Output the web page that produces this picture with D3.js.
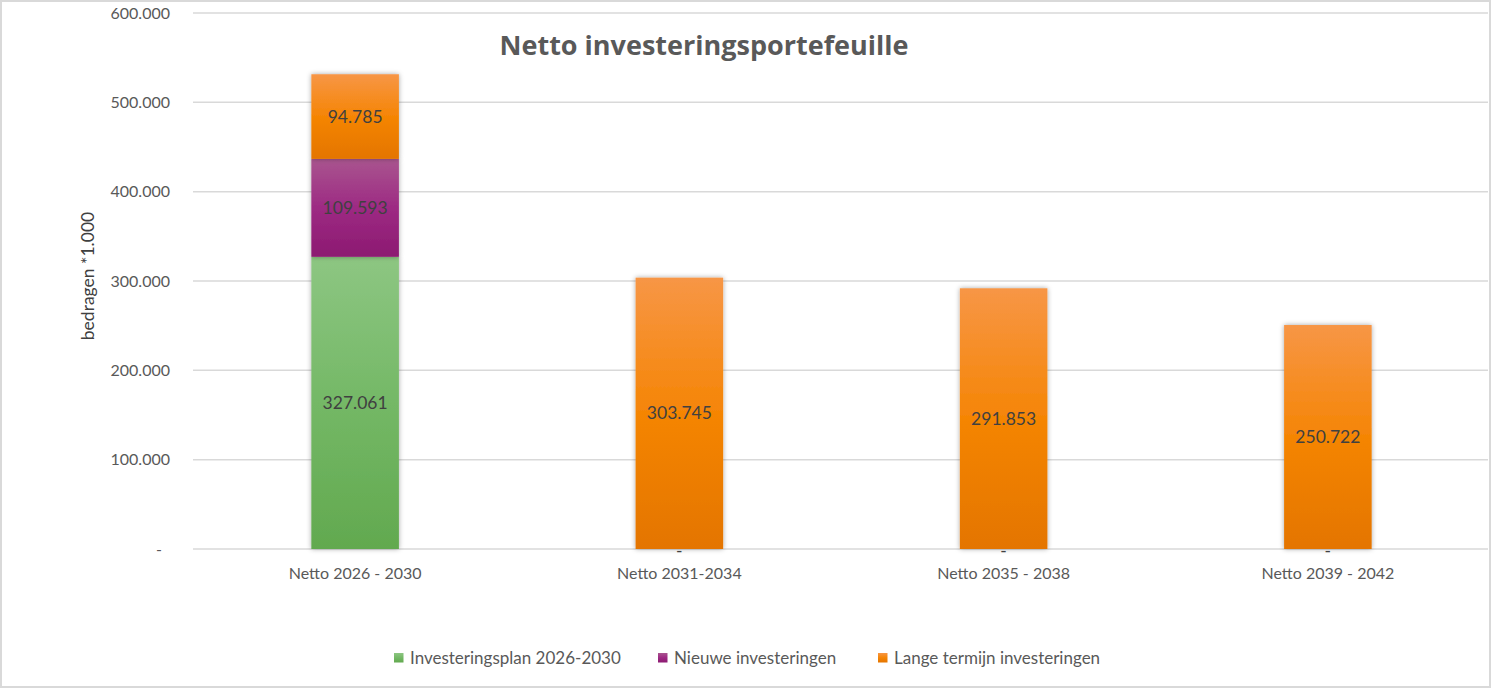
<!DOCTYPE html>
<html><head><meta charset="utf-8">
<script src="https://cdn.jsdelivr.net/npm/d3@7"></script>
<style>
html,body{margin:0;padding:0;background:#fff;}
text{font-family:Lato,"Open Sans","Noto Sans",sans-serif;}
</style></head>
<body>
<svg id="chart" width="1492" height="689"></svg>
<script>
const categories = ["Netto 2026 - 2030","Netto 2031-2034","Netto 2035 - 2038","Netto 2039 - 2042"];
const seriesNames = ["Investeringsplan 2026-2030","Nieuwe investeringen","Lange termijn investeringen"];
const investeringsplan = [327061, 0, 0, 0];
const nieuweInvesteringen = [109593, 0, 0, 0];
const langeTermijn = [94785, 303745, 291853, 250722];
const yTicks = [0, 100000, 200000, 300000, 400000, 500000, 600000];
const title = "Netto investeringsportefeuille";
const yTitle = "bedragen *1.000";

const svg = d3.select("#chart");
const W = 1492, H = 689;
const nl = d3.formatLocale({decimal:",", thousands:".", grouping:[3], currency:["€",""]});
const fmt = v => v === 0 ? "-" : nl.format(",.0f")(v);

// frame
svg.append("rect").attr("x",1).attr("y",1).attr("width",W-3).attr("height",H-3)
  .attr("fill","#fff").attr("stroke","#d9d9d9").attr("stroke-width",2);

const defs = svg.append("defs");
const grads = [
  {id:"g0", stops:["#8dc682","#74b866","#62a94f"]},
  {id:"g1", stops:["#a9558f","#9d2a83","#8c1a71"]},
  {id:"g2", stops:["#f79646","#f58505","#e47500"]}
];
grads.forEach(g=>{
  const lg = defs.append("linearGradient").attr("id",g.id).attr("x1",0).attr("y1",0).attr("x2",0).attr("y2",1);
  g.stops.forEach((c,i)=>lg.append("stop").attr("offset",(i/(g.stops.length-1)*100)+"%").attr("stop-color",c));
});
const f = defs.append("filter").attr("id","shadow").attr("x","-20%").attr("y","-20%").attr("width","140%").attr("height","140%");
f.append("feDropShadow").attr("dx",0).attr("dy",0).attr("stdDeviation",2.5).attr("flood-color","#000").attr("flood-opacity",0.35);

const x = d3.scaleBand().domain(categories).range([193,1490]).paddingInner(0.73).paddingOuter(0.365);
const y = d3.scaleLinear().domain([0,600000]).range([549,13]);

// gridlines
svg.append("g").selectAll("line").data(yTicks).join("line")
  .attr("x1",193).attr("x2",1488).attr("y1",d=>y(d)).attr("y2",d=>y(d))
  .attr("stroke","#d9d9d9").attr("stroke-width",1.5);

// y axis labels
const yAxis = d3.axisLeft(y).tickValues(yTicks).tickFormat(fmt).tickSize(0).tickPadding(0);
const ya = svg.append("g").attr("transform","translate(170,0)").call(yAxis);
ya.select(".domain").remove();
ya.selectAll("text").attr("fill","#595959").style("font-size","16px")
  .style("font-family","Lato,'Open Sans',sans-serif")
  .attr("dx", d=> d===0 ? -8 : 0);

// x axis labels
const xAxis = d3.axisBottom(x).tickSize(0).tickPadding(0);
const xa = svg.append("g").attr("transform","translate(0,568)").call(xAxis);
xa.select(".domain").remove();
xa.selectAll("text").attr("fill","#595959").style("font-size","16px")
  .style("font-family","Lato,'Open Sans',sans-serif");

// stacked data
const table = categories.map((c,i)=>({cat:c, s0:investeringsplan[i], s1:nieuweInvesteringen[i], s2:langeTermijn[i]}));
const stack = d3.stack().keys(["s0","s1","s2"])(table);

const barsG = svg.append("g");
stack.forEach((layer,k)=>{
  barsG.append("g").selectAll("rect").data(layer.filter(d=>d[1]-d[0]>0)).join("rect")
    .attr("x",d=>x(d.data.cat)).attr("width",x.bandwidth())
    .attr("y",d=>y(d[1])).attr("height",d=>y(d[0])-y(d[1]))
    .attr("fill",`url(#g${k})`).attr("filter","url(#shadow)");
});
// labels
stack.forEach((layer,k)=>{
  svg.append("g").selectAll("text").data(layer).join("text")
    .attr("x",d=>x(d.data.cat)+x.bandwidth()/2)
    .attr("y",d=>{const v=d[1]-d[0]; return v>0 ? (y(d[0])+y(d[1]))/2 : y(0);})
    .attr("dy",d=> (d[1]-d[0])>0 ? "0.35em" : "0.45em")
    .attr("text-anchor","middle").attr("fill","#404040")
    .style("font-size","17.5px")
    .text(d=>{const v=d[1]-d[0]; return v>0 ? fmt(v) : (k===0 ? "-" : "");});
});

// title
svg.append("text").attr("x",704).attr("y",55).attr("text-anchor","middle")
  .attr("fill","#595959").style("font-size","27px").style("font-weight","bold")
  .style("font-family","'Open Sans',Lato,sans-serif").text(title);

// y title
svg.append("text").attr("transform","translate(94,276) rotate(-90)").attr("text-anchor","middle")
  .attr("fill","#404040").style("font-size","17.5px").text(yTitle);

// legend
const legendX = [394, 658, 878];
const lg = svg.append("g");
seriesNames.forEach((n,i)=>{
  lg.append("rect").attr("x",legendX[i]).attr("y",653).attr("width",9.5).attr("height",9.5).attr("fill",`url(#g${i})`);
  lg.append("text").attr("x",legendX[i]+16).attr("y",658).attr("dy","0.35em")
    .attr("fill","#595959").style("font-size","17px").text(n);
});
</script>
</body></html>
